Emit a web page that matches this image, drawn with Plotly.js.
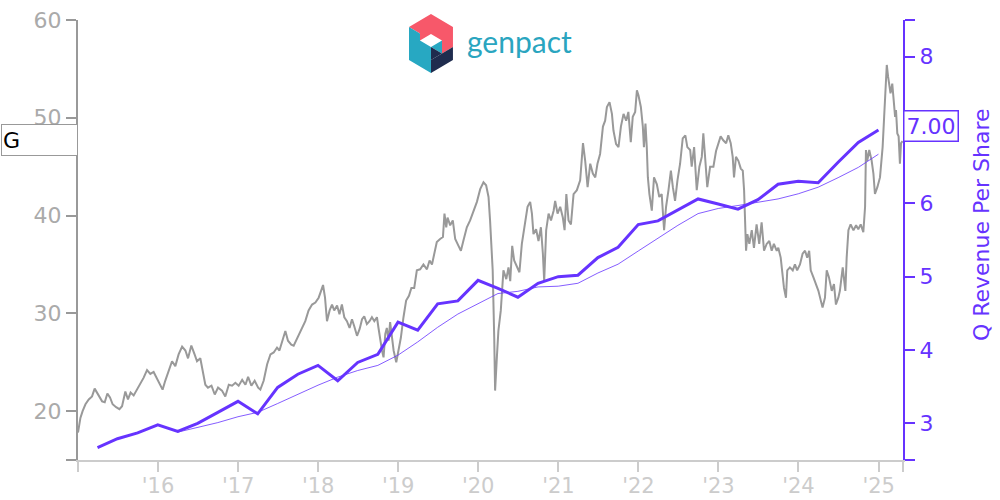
<!DOCTYPE html>
<html>
<head>
<meta charset="utf-8">
<script src="https://cdn.plot.ly/plotly-3.0.1.min.js"></script>
<style>html,body{margin:0;padding:0;background:#fff}#chart{width:1000px;height:500px}</style>
</head>
<body>
<div id="chart"></div>
<script>
// ---- DATA ----
// Price (left axis): decimal-year positions and prices
const priceYears = [2015.002,2015.031,2015.060,2015.094,2015.135,2015.177,2015.210,2015.240,2015.268,2015.302,2015.335,2015.368,2015.402,2015.434,2015.477,2015.518,2015.552,2015.593,2015.627,2015.659,2015.697,2015.739,2015.780,2015.821,2015.864,2015.905,2015.946,2015.989,2016.030,2016.059,2016.092,2016.134,2016.176,2016.217,2016.258,2016.301,2016.342,2016.376,2016.417,2016.458,2016.488,2016.529,2016.558,2016.592,2016.625,2016.667,2016.708,2016.750,2016.800,2016.841,2016.883,2016.925,2016.966,2017.007,2017.050,2017.091,2017.125,2017.166,2017.207,2017.250,2017.278,2017.320,2017.362,2017.403,2017.444,2017.487,2017.516,2017.557,2017.591,2017.624,2017.665,2017.694,2017.737,2017.799,2017.840,2017.881,2017.924,2017.965,2018.006,2018.036,2018.061,2018.086,2018.111,2018.144,2018.174,2018.202,2018.236,2018.268,2018.298,2018.327,2018.361,2018.393,2018.423,2018.452,2018.486,2018.518,2018.548,2018.577,2018.610,2018.643,2018.673,2018.702,2018.735,2018.755,2018.777,2018.798,2018.818,2018.839,2018.860,2018.880,2018.901,2018.923,2018.943,2018.976,2019.005,2019.035,2019.067,2019.101,2019.135,2019.167,2019.201,2019.235,2019.276,2019.317,2019.360,2019.392,2019.422,2019.451,2019.484,2019.526,2019.559,2019.579,2019.601,2019.617,2019.650,2019.684,2019.713,2019.754,2019.784,2019.816,2019.859,2019.900,2019.941,2019.984,2020.025,2020.066,2020.100,2020.129,2020.150,2020.166,2020.183,2020.200,2020.212,2020.233,2020.253,2020.283,2020.316,2020.350,2020.378,2020.400,2020.424,2020.449,2020.483,2020.516,2020.546,2020.587,2020.616,2020.649,2020.670,2020.690,2020.724,2020.753,2020.783,2020.808,2020.824,2020.849,2020.878,2020.908,2020.940,2020.961,2020.990,2021.024,2021.057,2021.077,2021.099,2021.127,2021.157,2021.190,2021.232,2021.273,2021.307,2021.336,2021.365,2021.398,2021.432,2021.461,2021.489,2021.523,2021.557,2021.586,2021.607,2021.639,2021.669,2021.689,2021.723,2021.752,2021.781,2021.814,2021.848,2021.876,2021.906,2021.931,2021.960,2021.981,2022.001,2022.031,2022.056,2022.069,2022.089,2022.106,2022.119,2022.139,2022.169,2022.197,2022.231,2022.263,2022.293,2022.322,2022.347,2022.376,2022.406,2022.431,2022.459,2022.488,2022.522,2022.556,2022.588,2022.613,2022.647,2022.668,2022.697,2022.730,2022.763,2022.793,2022.813,2022.834,2022.863,2022.897,2022.938,2022.972,2023.001,2023.030,2023.062,2023.096,2023.125,2023.155,2023.180,2023.196,2023.221,2023.250,2023.280,2023.305,2023.321,2023.333,2023.346,2023.362,2023.387,2023.417,2023.446,2023.479,2023.512,2023.542,2023.571,2023.604,2023.637,2023.667,2023.695,2023.729,2023.749,2023.779,2023.804,2023.820,2023.845,2023.861,2023.895,2023.929,2023.958,2023.986,2024.020,2024.053,2024.083,2024.111,2024.136,2024.154,2024.186,2024.220,2024.249,2024.279,2024.303,2024.332,2024.353,2024.382,2024.416,2024.444,2024.469,2024.498,2024.519,2024.553,2024.569,2024.586,2024.603,2024.623,2024.653,2024.686,2024.719,2024.748,2024.778,2024.811,2024.831,2024.844,2024.860,2024.885,2024.915,2024.935,2024.956,2024.985,2025.019,2025.052,2025.069,2025.085,2025.102,2025.120,2025.150,2025.171,2025.191,2025.206,2025.218,2025.235,2025.252,2025.268,2025.281,2025.300];
const priceValues = [17.8,19.3,20.0,20.7,21.2,21.5,22.3,21.9,21.4,21.0,20.9,21.8,21.4,20.7,20.4,20.2,20.5,22.0,21.2,21.9,21.6,22.2,22.9,23.4,24.2,23.8,24.0,23.3,22.6,22.2,23.1,24.1,25.1,24.6,25.8,26.6,26.2,25.4,26.7,25.8,25.1,25.4,24.1,22.7,22.4,22.6,21.7,22.4,22.1,21.5,22.7,22.6,22.9,22.6,23.2,22.7,23.5,22.6,23.1,22.4,22.2,23.1,24.8,25.8,26.0,26.5,26.2,27.4,28.2,27.2,26.8,26.7,27.5,28.5,29.2,30.3,30.9,31.1,31.6,32.3,32.9,31.6,29.2,30.3,30.9,30.3,30.8,29.9,30.9,29.6,29.2,28.5,29.4,28.7,27.7,28.4,29.4,29.7,28.9,29.2,29.6,29.2,29.6,28.5,27.2,26.2,25.5,27.9,28.5,27.2,29.1,27.5,26.2,25.0,26.2,27.5,29.6,31.3,31.8,32.6,32.6,34.4,34.5,35.0,34.5,35.4,35.0,36.1,37.3,37.6,37.8,40.2,38.8,39.8,39.0,39.5,37.6,36.9,36.4,37.4,38.8,39.5,40.4,41.4,42.7,43.4,43.1,41.9,39.5,36.7,34.4,27.5,22.1,25.5,28.2,30.3,34.4,33.5,34.7,33.3,36.9,35.4,34.7,34.2,37.1,39.5,40.9,41.4,40.2,38.1,38.6,37.4,38.8,36.1,33.3,38.5,40.2,39.5,40.5,41.5,40.2,40.9,39.8,38.5,42.2,39.5,39.1,42.2,42.6,43.6,47.4,45.6,42.9,45.3,44.3,43.9,45.3,46.3,49.1,49.7,51.1,51.6,50.4,48.7,47.3,47.0,49.1,50.4,49.7,50.6,47.5,50.1,50.6,52.8,52.3,51.1,49.1,47.0,49.4,47.0,43.9,42.2,40.5,43.9,43.2,41.9,42.2,38.5,40.9,42.6,44.6,42.9,41.5,43.6,45.3,47.9,48.2,47.0,46.7,45.0,47.0,42.6,45.0,46.0,48.4,46.0,42.9,45.0,45.0,46.6,47.4,48.1,47.7,47.4,48.2,47.4,46.0,43.9,46.0,45.6,44.8,44.6,42.6,39.8,36.4,38.1,37.1,38.5,36.7,39.1,37.1,39.3,36.4,37.1,37.4,36.4,37.1,36.4,36.7,35.7,33.3,32.6,31.6,34.4,34.7,34.4,35.0,34.4,35.0,36.1,36.4,35.7,36.4,34.4,33.7,33.0,32.3,31.3,30.6,31.6,34.4,33.7,32.3,33.0,30.9,31.6,32.3,34.7,33.3,32.3,35.7,38.5,39.1,38.5,39.0,38.6,39.1,38.3,40.9,46.7,45.6,46.7,45.6,44.3,42.2,42.9,43.9,47.0,50.1,53.5,55.4,54.2,52.5,53.5,51.1,50.1,50.8,48.4,48.1,45.3,47.4,47.6];

// Quarterly revenue per share (right axis)
const quarterDates = ['2015-03-31','2015-06-30','2015-09-30','2015-12-31','2016-03-31','2016-06-30','2016-09-30','2016-12-31','2017-03-31','2017-06-30','2017-09-30','2017-12-31','2018-03-31','2018-06-30','2018-09-30','2018-12-31','2019-03-31','2019-06-30','2019-09-30','2019-12-31','2020-03-31','2020-06-30','2020-09-30','2020-12-31','2021-03-31','2021-06-30','2021-09-30','2021-12-31','2022-03-31','2022-06-30','2022-09-30','2022-12-31','2023-03-31','2023-06-30','2023-09-30','2023-12-31','2024-03-31','2024-06-30','2024-09-30','2024-12-31'];
const revPerShare = [2.67,2.79,2.87,2.98,2.89,3.00,3.15,3.30,3.13,3.49,3.67,3.79,3.58,3.83,3.94,4.38,4.27,4.63,4.67,4.95,4.84,4.72,4.91,5.00,5.02,5.26,5.40,5.71,5.76,5.91,6.06,5.99,5.92,6.05,6.26,6.30,6.28,6.56,6.83,7.00];
// Thin trend line, from 2016-03-31
const trendDates = quarterDates.slice(4);
const trendValues = [2.88,2.94,3.01,3.09,3.15,3.27,3.40,3.52,3.63,3.72,3.79,3.93,4.11,4.31,4.49,4.63,4.77,4.80,4.86,4.87,4.91,5.05,5.17,5.35,5.53,5.70,5.86,5.93,5.97,6.01,6.06,6.13,6.22,6.35,6.49,6.67];

// Axis ticks
const xTickVals = ['2015-01-01','2016-01-01','2017-01-01','2018-01-01','2019-01-01','2020-01-01','2021-01-01','2022-01-01','2023-01-01','2024-01-01','2025-01-01','2025-04-22'];
const xTickText = ['',"'16","'17","'18","'19","'20","'21","'22","'23","'24","'25",''];
const yTickVals = [15,20,30,40,50,60];
const yTickText = ['','20','30','40','50','60'];
const y2TickVals = [2.5,3,4,5,6,7,8,8.5];
const y2TickText = ['','3','4','5','6','','8',''];
const ticker = 'G';
const lastPrice = 47.7;
const lastRev = 7.00;
const rightTitle = 'Q Revenue Per Share';
const brand = 'genpact';

// ---- helpers ----
function yearToDate(v){
  const y = Math.floor(v);
  const s = Date.UTC(y,0,1), e = Date.UTC(y+1,0,1);
  return new Date(s + (v - y) * (e - s)).toISOString().slice(0,10);
}
const PURPLE = '#6633ff';
const FONT = 'DejaVu Sans';

const logoSvg = "<svg xmlns='http://www.w3.org/2000/svg' viewBox='0 0 44 59' width='44' height='59'>" +
  "<path d='M0,13 L22,0 L44,13 L44,33 L33,39.5 L33,26.5 L22,20 L11,26.5 L11,19.5 Z' fill='#f7586a'/>" +
  "<path d='M0,13 L11,19.5 L11,26.5 L22,33 L22,59 L0,46 Z' fill='#27a8c2'/>" +
  "<path d='M22,33 L33,26.5 L33,39.5 Z' fill='#27a8c2'/>" +
  "<path d='M22,46 L44,33 L44,46 L22,59 Z' fill='#1f2c4e'/>" +
  "<path d='M22,33 L33,39.5 L22,46 Z' fill='#1f2c4e'/>" +
  "</svg>";
const logoUri = 'data:image/svg+xml;charset=utf-8,' + encodeURIComponent(logoSvg);

const traces = [
  {x: priceYears.map(yearToDate), y: priceValues, type:'scatter', mode:'lines',
   line:{color:'#999999', width:2}, yaxis:'y', hoverinfo:'skip'},
  {x: trendDates, y: trendValues, type:'scatter', mode:'lines',
   line:{color:PURPLE, width:0.8}, yaxis:'y2', hoverinfo:'skip'},
  {x: quarterDates, y: revPerShare, type:'scatter', mode:'lines',
   line:{color:PURPLE, width:3}, yaxis:'y2', hoverinfo:'skip'}
];

const layout = {
  width:1000, height:500,
  margin:{l:78, r:97, t:20, b:40},
  paper_bgcolor:'#ffffff', plot_bgcolor:'#ffffff',
  showlegend:false,
  font:{family:FONT, size:22},
  xaxis:{type:'date', range:['2015-01-01','2025-04-22'], tickmode:'array',
    tickvals:xTickVals, ticktext:xTickText, showgrid:false, zeroline:false,
    showline:true, linecolor:'#cccccc', linewidth:2, ticks:'outside', ticklen:10,
    tickcolor:'#cccccc', tickwidth:2, ticklabelstandoff:-4,
    tickfont:{color:'#cccccc', size:21, family:FONT}},
  yaxis:{range:[15,60], tickmode:'array', tickvals:yTickVals, ticktext:yTickText,
    showgrid:false, zeroline:false, showline:true, linecolor:'#999999', linewidth:2,
    ticks:'outside', ticklen:10, tickcolor:'#999999', tickwidth:2,
    tickfont:{color:'#aaaaaa', size:22, family:FONT}},
  yaxis2:{range:[2.5,8.5], overlaying:'y', side:'right', tickmode:'array',
    tickvals:y2TickVals, ticktext:y2TickText, showgrid:false, zeroline:false,
    showline:true, linecolor:PURPLE, linewidth:2, ticks:'outside', ticklen:10,
    tickcolor:PURPLE, tickwidth:2, tickfont:{color:PURPLE, size:22, family:FONT}},
  images:[{source:logoUri, xref:'paper', yref:'paper', x:0.4012, y:1.0136,
    sizex:0.0533, sizey:0.134, xanchor:'left', yanchor:'top', sizing:'stretch', layer:'above'}],
  annotations:[
    {xref:'paper', yref:'y', x:0, y:lastPrice, xanchor:'right', yanchor:'middle',
     text:ticker, showarrow:false, align:'left', width:73, height:28,
     bordercolor:'#999999', borderwidth:1, borderpad:1, bgcolor:'#ffffff',
     font:{color:'#000000', size:22, family:FONT}},
    {xref:'paper', yref:'y2', x:1, y:lastRev, xanchor:'left', yanchor:'middle', yshift:4,
     text:lastRev.toFixed(2), showarrow:false, bordercolor:PURPLE, borderwidth:1.5,
     borderpad:2, bgcolor:'#ffffff', font:{color:PURPLE, size:22, family:FONT}},
    {xref:'paper', yref:'paper', x:1.0945, y:0.536, xanchor:'center', yanchor:'middle',
     text:rightTitle, textangle:-90, showarrow:false,
     font:{color:PURPLE, size:22, family:FONT}},
    {xref:'paper', yref:'paper', x:0.4685, y:0.952, xanchor:'left', yanchor:'middle',
     text:brand, showarrow:false, font:{color:'#2aa5bf', size:30, family:'Lato'}}
  ]
};

Plotly.newPlot('chart', traces, layout, {staticPlot:true, displayModeBar:false});
</script>
</body>
</html>
